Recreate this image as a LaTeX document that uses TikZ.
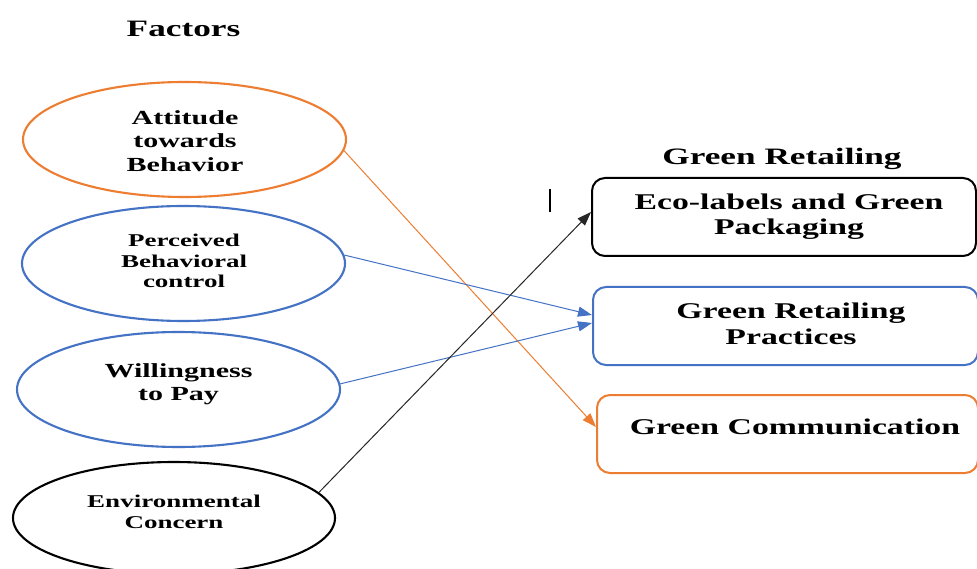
\documentclass[tikz,border=0pt]{standalone}
\usepackage{fontspec}
\setmainfont[FakeStretch=1.5]{Liberation Serif}
\usetikzlibrary{arrows.meta,calc,shapes.geometric}
\definecolor{accentorange}{HTML}{ED7D31}
\definecolor{accentblue}{HTML}{4472C4}
\tikzset{
  factor/.style={draw, ellipse, line width=2.1pt, inner sep=0pt,
    minimum width=323pt, minimum height=115pt},
  outcome/.style={draw, rectangle, rounded corners=13pt, line width=2pt,
    inner sep=0pt, minimum height=78pt},
  lbl/.style={anchor=base, inner sep=0pt, text=black},
  heading/.style={lbl, font=\bfseries\fontsize{23.5}{27}\selectfont},
  big/.style={lbl, font=\bfseries\fontsize{22.5}{26}\selectfont},
  mid/.style={lbl, font=\bfseries\fontsize{20}{24}\selectfont},
  small/.style={lbl, font=\bfseries\fontsize{18}{21}\selectfont},
  link/.style={-{Triangle[length=14pt,width=10pt]}, line width=1pt},
}
\begin{document}
\begin{tikzpicture}[x=1pt,y=-1pt]
\useasboundingbox (0,0) rectangle (977,569);
\clip (0,0) rectangle (977,569);
\fill[white] (0,0) rectangle (977,569);

% column titles
\node[heading] (factors) at (183.5,37) {Factors};
\node[heading] (retail) at (782,165) {Green Retailing};

% factors
\node[factor, accentorange] (att) at (184.5,139.5) {};
\node[factor, accentblue] (perc) at (183.5,263.5) {};
\node[factor, accentblue] (will) at (178.5,389.5) {};
\node[factor, black, minimum width=322pt, minimum height=112pt] (env) at (174,518) {};

\node[mid] (att1) at (185,125) {Attitude};
\node[mid] (att2) at (185,148) {towards};
\node[mid] (att3) at (185,172) {Behavior};

\node[small] (perc1) at (184,247) {Perceived};
\node[small] (perc2) at (184,268) {Behavioral};
\node[small] (perc3) at (184,288) {control};

\node[mid] (will1) at (178.5,377) {Willingness};
\node[mid] (will2) at (178.5,400) {to Pay};

\node[small] (env1) at (174,507) {Environmental};
\node[small] (env2) at (174,528) {Concern};

% green retailing outcomes
\node[outcome, black, minimum width=384pt] (eco) at (784,217) {};
\node[outcome, accentblue, minimum width=385pt] (prac) at (785.5,326) {};
\node[outcome, accentorange, minimum width=381pt] (comm) at (787.5,434) {};

\node[big] (eco1) at (789,210) {Eco-labels and Green};
\node[big] (eco2) at (789,235) {Packaging};
\node[big] (prac1) at (791,318) {Green Retailing};
\node[big] (prac2) at (791,344) {Practices};
\node[big] (comm1) at (795,434) {Green Communication};

% stray text cursor
\coordinate (cur-top) at (550,189);
\coordinate (cur-bot) at (550,212);
\draw[line width=1.4pt] (cur-top) -- (cur-bot);

% links
\draw[link, accentorange] (att.-4) -- ($(comm.west)+(0,-7)$);
\draw[link, accentblue] (perc.3) -- ($(prac.west)+(0,-11)$);
\draw[link, accentblue] (will.2) -- ($(prac.west)+(0,-3)$);
\draw[link, black!85] (env.10) -- ($(eco.west)+(0,-5)$);
\end{tikzpicture}
\end{document}
